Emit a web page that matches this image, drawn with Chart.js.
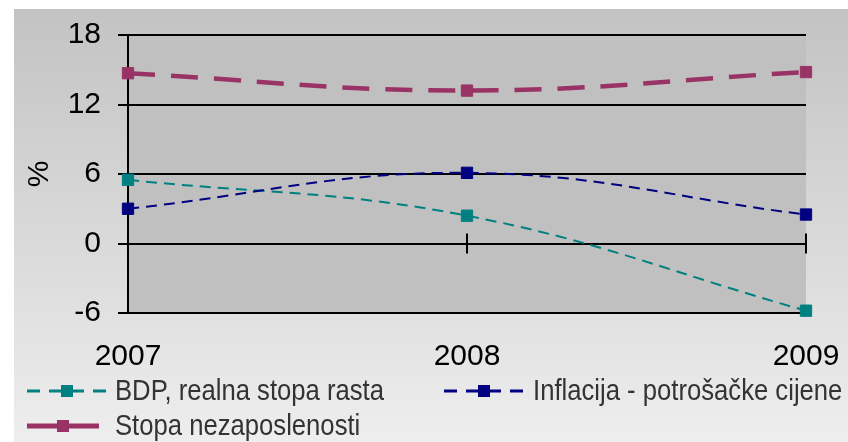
<!DOCTYPE html>
<html>
<head>
<meta charset="utf-8">
<script src="https://cdn.jsdelivr.net/npm/chart.js@4/dist/chart.umd.min.js"></script>
<style>
  html, body { margin: 0; padding: 0; background: #fff; }
  #wrap { position: relative; width: 848px; height: 442px; overflow: hidden; }
  #bg {
    position: absolute; left: 14px; top: 9px; width: 834px; height: 433px;
    background: linear-gradient(to bottom, #c3c3c3 0%, #dadada 55%, #eeeeee 100%);
  }
  #chart { position: absolute; left: 0; top: 0; }
  .leg {
    position: absolute; height: 30px; line-height: 30px; white-space: nowrap;
    font-family: "Liberation Sans", Arial, sans-serif;
    font-size: 30px; color: #333;
  }
  .leg svg { position: absolute; top: 0; }
  .leg span { position: absolute; top: 0; transform: scaleX(0.855); transform-origin: 0 50%; }
</style>
</head>
<body>
<div id="wrap">
  <div id="bg"></div>
  <canvas id="chart" width="848" height="442"></canvas>
  <div id="legend"></div>
</div>
<script>
// ── Data ──────────────────────────────────────
const years      = ['2007', '2008', '2009'];
const bdp        = [5.5, 2.4, -5.8];
const inflacija  = [3.0, 6.1, 2.5];
const nezaposlen = [14.7, 13.2, 14.8];
const yTicks     = [-6, 0, 6, 12, 18];

const seriesNames = ['BDP, realna stopa rasta', 'Inflacija - potrošačke cijene', 'Stopa nezaposlenosti'];
const TEAL = '#008080', NAVY = '#000080', PLUM = '#993366';

// ── Plot area fill + crossing ticks on the zero line ──
const plotBg = {
  id: 'plotBg',
  beforeDraw(chart) {
    const { ctx, chartArea: a } = chart;
    ctx.save();
    ctx.fillStyle = '#c0c0c0';
    ctx.fillRect(a.left, a.top, a.right - a.left, a.bottom - a.top);
    ctx.restore();
  },
  beforeDatasetsDraw(chart) {
    const { ctx, scales: { x, y } } = chart;
    const y0 = y.getPixelForValue(0);
    ctx.save();
    ctx.strokeStyle = '#000';
    ctx.lineWidth = 2;
    years.forEach((_, i) => {
      const px = x.getPixelForValue(i);
      ctx.beginPath();
      ctx.moveTo(px, y0 - 10);
      ctx.lineTo(px, y0 + 10);
      ctx.stroke();
    });
    ctx.restore();
  }
};

const axisFont = { family: '"Liberation Sans", Arial, sans-serif', size: 30 };

new Chart(document.getElementById('chart'), {
  type: 'line',
  data: {
    labels: years,
    datasets: [
      {
        label: seriesNames[2],
        data: nezaposlen,
        borderColor: PLUM, backgroundColor: PLUM,
        borderWidth: 4.5, borderDash: [27, 16],
        pointStyle: 'rect', pointRadius: 8, pointBorderWidth: 1,
        tension: 0.4, clip: false,
      },
      {
        label: seriesNames[1],
        data: inflacija,
        borderColor: NAVY, backgroundColor: NAVY,
        borderWidth: 2, borderDash: [11, 7],
        pointStyle: 'rect', pointRadius: 8, pointBorderWidth: 1,
        tension: 0.4, clip: false,
      },
      {
        label: seriesNames[0],
        data: bdp,
        borderColor: TEAL, backgroundColor: TEAL,
        borderWidth: 2, borderDash: [11, 7],
        pointStyle: 'rect', pointRadius: 8, pointBorderWidth: 1,
        tension: 0.4, clip: false,
      }
    ]
  },
  options: {
    responsive: false,
    animation: false,
    devicePixelRatio: 1,
    layout: { padding: { left: 22, top: 35, right: 42, bottom: 0 } },
    plugins: { legend: { display: false }, tooltip: { enabled: false } },
    scales: {
      x: {
        type: 'category',
        offset: false,
        grid: { display: true, drawOnChartArea: false, tickLength: 18, tickColor: 'rgba(0,0,0,0)' },
        border: { display: false },
        ticks: { color: '#000', font: axisFont, padding: 8, maxRotation: 0 },
        afterFit(scale) { scale.height = 129; }
      },
      y: {
        min: -6, max: 18,
        afterBuildTicks(scale) { scale.ticks = yTicks.map(v => ({ value: v })); },
        grid: { color: '#000', lineWidth: 2, tickLength: 10 },
        border: { color: '#000', width: 2 },
        ticks: { color: '#000', font: axisFont, padding: 17 },
        title: { display: true, text: '%', color: '#000', font: axisFont, padding: 0 },
        afterFit(scale) { scale.width = 106; }
      }
    }
  },
  plugins: [plotBg]
});

// ── Legend (two columns, Excel style) ─────────
function sample(color, width, dash, len) {
  const d = dash ? `stroke-dasharray="${dash}"` : '';
  return `<svg width="${len}" height="30"><line x1="0" y1="16" x2="${len}" y2="16" stroke="${color}" stroke-width="${width}" ${d}/>
    <rect x="${len / 2 - 6}" y="10" width="12" height="12" fill="${color}"/></svg>`;
}
const legendItems = [
  { name: seriesNames[0], color: TEAL, width: 3, dash: '13,9', left: 27, top: 375, len: 80, text: 88 },
  { name: seriesNames[1], color: NAVY, width: 3, dash: '13,9', left: 444, top: 375, len: 80, text: 89 },
  { name: seriesNames[2], color: PLUM, width: 5, dash: '', left: 27, top: 410, len: 72, text: 88 },
];
document.getElementById('legend').innerHTML = legendItems.map(it => `
  <div class="leg" style="left:${it.left}px;top:${it.top}px">
    ${sample(it.color, it.width, it.dash, it.len)}
    <span style="left:${it.text}px">${it.name}</span>
  </div>`).join('');
</script>
</body>
</html>
